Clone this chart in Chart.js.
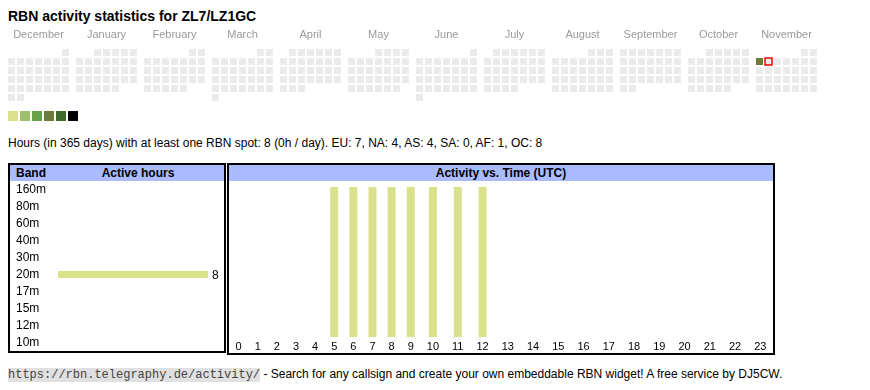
<!DOCTYPE html>
<html>
<head>
<meta charset="utf-8">
<script src="https://cdn.jsdelivr.net/npm/chart.js@4.4.0/dist/chart.umd.min.js"></script>
<style>
  body { margin: 0; background: #fff; font-family: "Liberation Sans", Arial, sans-serif; color: #000; }
  .abs { position: absolute; }
  #title { left: 8px; top: 8px; font-size: 14px; line-height: 16px; font-weight: bold; }
  #summary { left: 8px; top: 136px; font-size: 12px; line-height: 14px; white-space: nowrap; }
  .box { position: absolute; box-sizing: border-box; border: 2px solid #000; background: #fff; }
  .head { position: absolute; left: 0; top: 0; right: 0; height: 16px; background: #aabbff;
          font-size: 12px; font-weight: bold; line-height: 16px; }
  .head span { position: absolute; top: 0; }
  #footer { left: 8px; top: 367px; font-size: 12px; line-height: 15px; white-space: nowrap; }
  #footer code { font-family: "Liberation Mono", monospace; font-size: 12px; background: #e0e0e0; color: #444; }
</style>
</head>
<body>
<div id="title" class="abs">RBN activity statistics for ZL7/LZ1GC</div>
<canvas id="cal" class="abs" width="830" height="96" style="left:0;top:28px"></canvas>
<div id="summary" class="abs">Hours (in 365 days) with at least one RBN spot: 8 (0h / day). EU: 7, NA: 4, AS: 4, SA: 0, AF: 1, OC: 8</div>

<div class="box" style="left:8px;top:163px;width:218px;height:190px">
  <div class="head"><span style="left:6px">Band</span><span style="left:42px;right:0;text-align:center">Active hours</span></div>
  <canvas id="bands" class="abs" width="214" height="170" style="left:0;top:16px"></canvas>
</div>

<div class="box" style="left:227px;top:163px;width:548px;height:192px">
  <div class="head" style="text-align:center">Activity vs. Time (UTC)</div>
  <canvas id="hours" class="abs" width="544" height="172" style="left:0;top:16px"></canvas>
</div>

<div id="footer" class="abs"><code>https://rbn.telegraphy.de/activity/</code> - Search for any callsign and create your own embeddable RBN widget! A free service by DJ5CW.</div>

<script>
// ---- data ----
const calMonths = ['December', 'January', 'February', 'March', 'April', 'May', 'June',
                   'July', 'August', 'September', 'October', 'November'];
const calMonthDays = [31, 31, 28, 31, 30, 31, 30, 31, 31, 30, 31, 30];
const calFirstWeekday = [6, 2, 5, 5, 1, 3, 6, 1, 4, 0, 2, 5];   // Monday = 0
const calActive = [{ month: 11, day: 3, level: 4 }];              // level 1..6
const calToday = { month: 11, day: 4 };
const levelColors = ['#dae18b', '#9fc16b', '#6aa246', '#6b7c3a', '#3e6b29', '#000000'];

const bands = ['160m', '80m', '60m', '40m', '30m', '20m', '17m', '15m', '12m', '10m'];
const bandHours = [0, 0, 0, 0, 0, 8, 0, 0, 0, 0];

const hourLabels = ['0', '1', '2', '3', '4', '5', '6', '7', '8', '9', '10', '11',
                    '12', '13', '14', '15', '16', '17', '18', '19', '20', '21', '22', '23'];
const hourCounts = [0, 0, 0, 0, 0, 1, 1, 1, 1, 1, 1, 1, 1, 0, 0, 0, 0, 0, 0, 0, 0, 0, 0, 0];

// ---- look ----
const FONT = '"Liberation Sans", Arial, sans-serif';
const BAR_COLOR = levelColors[0];
const CELL_BG = '#ebebeb';
const CELL = 9, SQ = 7, BLOCK = 68, CAL_LEFT = 8, CAL_TOP = 49;

Chart.defaults.font.family = FONT;
Chart.defaults.color = '#000';
Chart.defaults.animation = false;
Chart.defaults.events = [];
Chart.defaults.plugins.legend.display = false;
Chart.defaults.plugins.tooltip.enabled = false;

// ---- calendar ----
const calPoints = [];
calMonths.forEach((name, m) => {
  for (let d = 1; d <= calMonthDays[m]; d++) {
    const slot = calFirstWeekday[m] + d - 1;
    const hit = calActive.find(a => a.month === m && a.day === d);
    calPoints.push({
      x: CAL_LEFT + m * BLOCK + (slot % 7) * CELL + SQ / 2,
      y: CAL_TOP + Math.floor(slot / 7) * CELL + SQ / 2,
      level: hit ? hit.level : 0,
      today: m === calToday.month && d === calToday.day,
    });
  }
});
const legendPoints = levelColors.map((c, i) => ({ x: 13 + i * 12, y: 116, level: i + 1 }));
const monthCenters = calMonths.map((_, m) => CAL_LEFT + m * BLOCK + (7 * CELL - 2) / 2);

new Chart(document.getElementById('cal'), {
  type: 'scatter',
  data: {
    datasets: [
      {
        data: calPoints,
        pointStyle: 'rect',
        pointRadius: SQ / Math.SQRT2,
        backgroundColor: ctx => ctx.raw && ctx.raw.level ? levelColors[ctx.raw.level - 1] : CELL_BG,
        borderColor: ctx => ctx.raw && ctx.raw.today ? '#ff0000' : 'rgba(0,0,0,0)',
        borderWidth: ctx => ctx.raw && ctx.raw.today ? 1.5 : 0,
      },
      {
        data: legendPoints,
        pointStyle: 'rect',
        pointRadius: 10 / Math.SQRT2,
        backgroundColor: ctx => ctx.raw ? levelColors[ctx.raw.level - 1] : CELL_BG,
        borderWidth: 0,
      },
    ],
  },
  options: {
    responsive: false,
    layout: { padding: 0, autoPadding: false },
    scales: {
      x: {
        type: 'linear', position: 'top', min: 0, max: 830,
        grid: { display: false, drawTicks: false }, border: { display: false },
        afterBuildTicks: s => { s.ticks = monthCenters.map(v => ({ value: v })); },
        afterFit: s => { s.height = 20; },
        ticks: {
          autoSkip: false, maxRotation: 0, padding: 6, color: '#9a9a9a',
          font: { size: 11 },
          callback: (v, i) => calMonths[i],
        },
      },
      y: { type: 'linear', display: false, min: 48, max: 124, reverse: true },
    },
  },
});

// ---- value labels at bar ends ----
const barValueLabels = {
  id: 'barValueLabels',
  afterDatasetsDraw(chart) {
    const ctx = chart.ctx;
    ctx.save();
    ctx.font = '12px ' + FONT;
    ctx.fillStyle = '#000';
    ctx.textBaseline = 'middle';
    chart.getDatasetMeta(0).data.forEach((bar, i) => {
      const v = chart.data.datasets[0].data[i];
      if (v) ctx.fillText(String(v), bar.x + 4, bar.y + 1);
    });
    ctx.restore();
  },
};

const barFill = ctx => (ctx.raw && (ctx.raw.y === undefined ? ctx.raw : ctx.raw.y)) ? BAR_COLOR : 'rgba(0,0,0,0)';

new Chart(document.getElementById('bands'), {
  type: 'bar',
  data: { labels: bands, datasets: [{ data: bandHours, backgroundColor: barFill, inflateAmount: 0, barThickness: 7 }] },
  options: {
    responsive: false,
    indexAxis: 'y',
    layout: { padding: { left: 6, right: 16, top: 0, bottom: 0 }, autoPadding: false },
    scales: {
      x: { display: false, min: 0, max: Math.max(...bandHours) },
      y: {
        grid: { display: false, drawTicks: false }, border: { display: false },
        afterFit: s => { s.width = 42; s.paddingTop = 0; s.paddingBottom = 0; },
        ticks: { autoSkip: false, crossAlign: 'far', padding: 0, font: { size: 12 } },
      },
    },
  },
  plugins: [barValueLabels],
});

// ---- activity vs time: columns sized like the table cells ----
const measure = document.createElement('canvas').getContext('2d');
measure.font = '11px ' + FONT;
const rawWidths = hourLabels.map(l => measure.measureText(l).width + 13);
const total = rawWidths.reduce((a, b) => a + b, 0);
const hourCenters = [];
let acc = 0;
rawWidths.forEach(w => { hourCenters.push(acc + w / 2); acc += w; });

new Chart(document.getElementById('hours'), {
  type: 'bar',
  data: {
    datasets: [{
      data: hourCounts.map((c, i) => ({ x: hourCenters[i], y: c })),
      backgroundColor: barFill,
      inflateAmount: 0,
      barThickness: 8,
    }],
  },
  options: {
    responsive: false,
    layout: { padding: { left: 0, right: 0, top: 6, bottom: 0 }, autoPadding: false },
    scales: {
      x: {
        type: 'linear', min: 0, max: total, offset: false,
        grid: { display: false, drawTicks: false }, border: { display: false },
        afterBuildTicks: s => { s.ticks = hourCenters.map(v => ({ value: v })); },
        afterFit: s => { s.height = 16; },
        ticks: { autoSkip: false, maxRotation: 0, padding: 3, font: { size: 11 },
                 callback: (v, i) => hourLabels[i] },
      },
      y: { display: false, min: 0, max: Math.max(...hourCounts) },
    },
  },
});
</script>
</body>
</html>
